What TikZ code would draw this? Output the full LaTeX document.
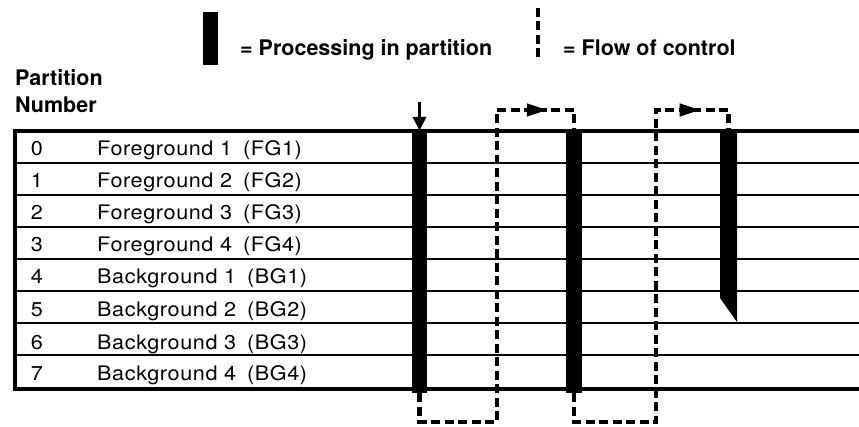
\documentclass[tikz,border=0pt]{standalone}
\usepackage{fontspec}
\setmainfont{TeX Gyre Heros}
\newfontfamily\rowfont[FakeStretch=1.08,LetterSpace=3]{TeX Gyre Heros}
\usepackage{tikz}
\usetikzlibrary{arrows.meta,positioning,decorations.markings}

\begin{document}
\begin{tikzpicture}[
    x=1pt, y=-1pt,
    procbar/.style={rectangle, fill=black, inner sep=0pt, minimum width=15pt},
    flow/.style={line width=4.2pt, dash pattern=on 9pt off 4.5pt},
    flowarrow/.style={flow, postaction={decorate}, decoration={markings, mark=at position #1 with {\arrow{Triangle[length=21pt,width=12pt]}}}},
    entryarrow/.style={-{Triangle[length=14pt,width=13pt]}, line width=3.4pt},
    tableframe/.style={line width=4.5pt, line join=miter},
    rowline/.style={line width=1.6pt},
    partnum/.style={anchor=base, font=\rowfont\fontsize{20}{22}\selectfont, inner sep=0pt},
    partname/.style={anchor=base west, font=\rowfont\fontsize{20}{22}\selectfont, inner sep=0pt},
    heading/.style={anchor=base west, font=\bfseries\fontsize{21.5}{25}\selectfont, inner sep=0pt}
]
    \useasboundingbox (0,0) rectangle (859,427);

    % legend
    \node[procbar, minimum height=53pt] (legbar) at (210.5,38.5) {};
    \node[heading] (legproc) at (240,56) {= Processing in partition};
    \coordinate (legtop) at (538,8);
    \coordinate (legbot) at (538,62);
    \draw[flow] (legtop) -- (legbot);
    \node[heading] (legflow) at (563,56) {= Flow of control};

    % partition table
    \node[heading] (parthead) at (15,86) {Partition};
    \node[heading] (numhead) at (15,113) {Number};

    \draw[rowline] (15,163) -- (859,163);
    \draw[rowline] (15,195) -- (859,195);
    \draw[rowline] (15,227) -- (859,227);
    \draw[rowline] (15,259) -- (859,259);
    \draw[rowline] (15,291) -- (859,291);
    \draw[rowline] (15,323) -- (859,323);
    \draw[rowline] (15,355) -- (859,355);
    \draw[tableframe] (859,131) -- (15,131) -- (15,389) -- (859,389);

    \node[partnum] (n0) at (37,156) {0};
    \node[partname] (p0) at (97,156) {Foreground 1\hskip0.55em(FG1)};
    \node[partnum] (n1) at (37,188) {1};
    \node[partname] (p1) at (97,188) {Foreground 2\hskip0.55em(FG2)};
    \node[partnum] (n2) at (37,220) {2};
    \node[partname] (p2) at (97,220) {Foreground 3\hskip0.55em(FG3)};
    \node[partnum] (n3) at (37,252) {3};
    \node[partname] (p3) at (97,252) {Foreground 4\hskip0.55em(FG4)};
    \node[partnum] (n4) at (37,284) {4};
    \node[partname] (p4) at (97,284) {Background 1\hskip0.55em(BG1)};
    \node[partnum] (n5) at (37,317) {5};
    \node[partname] (p5) at (97,317) {Background 2\hskip0.55em(BG2)};
    \node[partnum] (n6) at (37,349) {6};
    \node[partname] (p6) at (97,349) {Background 3\hskip0.55em(BG3)};
    \node[partnum] (n7) at (37,381) {7};
    \node[partname] (p7) at (97,381) {Background 4\hskip0.55em(BG4)};

    % processing bars
    \node[procbar, minimum height=262pt] (bar1) at (419.5,262) {};
    \node[procbar, minimum width=16pt, minimum height=262pt] (bar2) at (574,262) {};
    \fill (720,131) -- (737,131) -- (737,322) -- (720,298) -- cycle;
    \coordinate (bar3) at (728.5,131);

    % flow of control
    \coordinate (entry) at (419.5,102);
    \draw[entryarrow] (entry) -- (bar1.north);

    \coordinate (low1) at (497,422);
    \coordinate (high1) at (497,110);
    \draw[flowarrow=-47pt] (bar1.south) |- (low1) -- (high1) -| (bar2.north);

    \coordinate (low2) at (656,422);
    \coordinate (high2) at (656,110);
    \draw[flowarrow=-49pt] (bar2.south) |- (low2) -- (high2) -| (bar3);
\end{tikzpicture}
\end{document}
